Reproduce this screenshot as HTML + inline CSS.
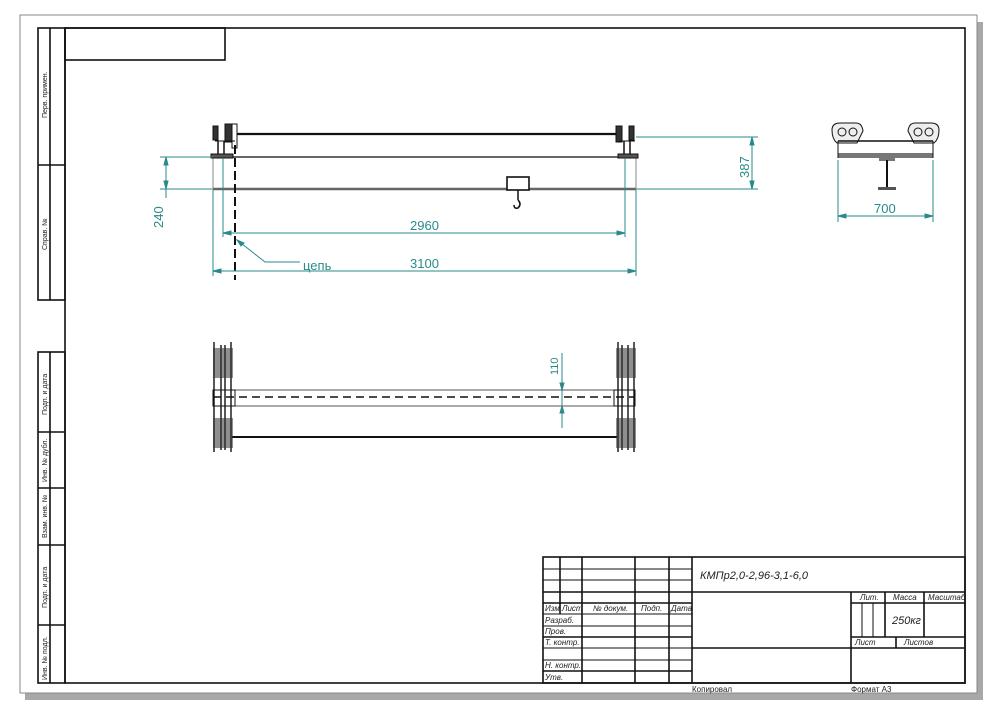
<!DOCTYPE html>
<html><head><meta charset="utf-8"><style>
html,body{margin:0;padding:0;background:#fff;width:1000px;height:715px;overflow:hidden}
svg{display:block}
text{font-family:"Liberation Sans","DejaVu Sans",sans-serif}
</style></head><body>
<svg width="1000" height="715" viewBox="0 0 1000 715" xmlns="http://www.w3.org/2000/svg">
<rect width="1000" height="715" fill="#fff"/>
<!-- shadow -->
<rect x="977" y="22" width="6" height="678" fill="#a8a8a8"/>
<rect x="25" y="693" width="958" height="7" fill="#a8a8a8"/>
<rect x="20" y="15" width="957" height="678" fill="#fff" stroke="#888" stroke-width="1"/>
<!-- frame -->
<g stroke="#111" fill="none" stroke-width="1.6">
<rect x="65" y="28" width="900" height="655"/>
<rect x="65" y="28" width="160" height="32"/>
<!-- left top strip -->
<rect x="38" y="28" width="27" height="272"/>
<line x1="50" y1="28" x2="50" y2="300"/><line x1="38" y1="165" x2="65" y2="165"/>
<!-- left bottom strip -->
<rect x="38" y="352" width="27" height="331"/>
<line x1="50" y1="352" x2="50" y2="683"/>
<line x1="38" y1="432" x2="65" y2="432"/><line x1="38" y1="488" x2="65" y2="488"/>
<line x1="38" y1="545" x2="65" y2="545"/><line x1="38" y1="625" x2="65" y2="625"/>
<!-- title block -->
<rect x="543" y="557" width="422" height="126"/>
<line x1="692" y1="557" x2="692" y2="683"/>
<line x1="560" y1="557" x2="560" y2="614"/>
<line x1="582" y1="557" x2="582" y2="683"/>
<line x1="635" y1="557" x2="635" y2="683"/>
<line x1="669" y1="557" x2="669" y2="683"/>
<line x1="692" y1="592" x2="965" y2="592"/>
<line x1="692" y1="648" x2="965" y2="648"/>
<line x1="851" y1="592" x2="851" y2="683"/>
<line x1="851" y1="603" x2="965" y2="603"/>
<line x1="851" y1="637" x2="965" y2="637"/>
<line x1="885" y1="592" x2="885" y2="637"/>
<line x1="924" y1="592" x2="924" y2="637"/>
<line x1="896" y1="637" x2="896" y2="648"/>
</g>
<g stroke="#111" stroke-width="1">
<line x1="862" y1="603" x2="862" y2="637"/><line x1="873" y1="603" x2="873" y2="637"/>
<line x1="543" y1="569" x2="692" y2="569"/><line x1="543" y1="580" x2="692" y2="580"/>
<line x1="543" y1="614" x2="692" y2="614"/><line x1="543" y1="626" x2="692" y2="626"/>
<line x1="543" y1="648" x2="692" y2="648"/><line x1="543" y1="660" x2="692" y2="660"/>
</g>
<g stroke="#111" stroke-width="1.6">
<line x1="543" y1="592" x2="692" y2="592"/><line x1="543" y1="603" x2="692" y2="603"/>
<line x1="543" y1="637" x2="692" y2="637"/><line x1="543" y1="671" x2="692" y2="671"/>
</g>
<g font-size="8" fill="#222" font-style="italic">
<text x="545" y="611">Изм</text><text x="562" y="611">Лист</text><text x="593" y="611">№ докум.</text><text x="641" y="611">Подп.</text><text x="671" y="611">Дата</text>
<text x="545" y="623">Разраб.</text><text x="545" y="634">Пров.</text><text x="545" y="645">Т. контр.</text>
<text x="545" y="668">Н. контр.</text><text x="545" y="680">Утв.</text>
<text x="860" y="600">Лит.</text><text x="893" y="600">Масса</text><text x="928" y="600">Масштаб</text>
<text x="855" y="645">Лист</text><text x="904" y="645">Листов</text>
<text x="692" y="692" font-style="normal">Копировал</text><text x="851" y="692" font-style="normal">Формат А3</text>
<text x="700" y="579" font-size="11">КМПр2,0-2,96-3,1-6,0</text>
<text x="892" y="624" font-size="11">250кг</text>
</g>
<g font-size="7" fill="#222">
<text transform="translate(47,118) rotate(-90)">Перв. примен.</text>
<text transform="translate(47,250) rotate(-90)">Справ. №</text>
<text transform="translate(47,415) rotate(-90)">Подп. и дата</text>
<text transform="translate(47,482) rotate(-90)">Инв. № дубл.</text>
<text transform="translate(47,538) rotate(-90)">Взам. инв. №</text>
<text transform="translate(47,608) rotate(-90)">Подп. и дата</text>
<text transform="translate(47,680) rotate(-90)">Инв. № подл.</text>
</g>

<!-- TOP VIEW -->
<g stroke="#111" fill="none">
<line x1="236" y1="134" x2="618" y2="134" stroke-width="2.2"/>
<line x1="213" y1="157" x2="636" y2="157" stroke="#666" stroke-width="2"/>
<line x1="213" y1="189" x2="636" y2="189" stroke="#666" stroke-width="2.6"/>
<line x1="213" y1="157" x2="213" y2="189" stroke="#888"/>
<line x1="636" y1="157" x2="636" y2="189" stroke="#888"/>
<!-- left truck -->
<rect x="213" y="126" width="5" height="14" fill="#333"/>
<rect x="225" y="124" width="7" height="18" fill="#333"/>
<rect x="232" y="124" width="5" height="24" fill="#fff"/>
<line x1="215" y1="141" x2="235" y2="141"/>
<line x1="218" y1="141" x2="218" y2="155" stroke-width="1.5"/><line x1="224" y1="141" x2="224" y2="155" stroke-width="1.5"/>
<rect x="211" y="154" width="22" height="4" fill="#555"/>
<!-- right truck -->
<rect x="616" y="126" width="6" height="16" fill="#333"/>
<rect x="629" y="126" width="5" height="14" fill="#333"/>
<line x1="619" y1="141" x2="635" y2="141"/>
<line x1="624" y1="141" x2="624" y2="155" stroke-width="1.5"/><line x1="630" y1="141" x2="630" y2="155" stroke-width="1.5"/>
<rect x="618" y="154" width="20" height="4" fill="#555"/>
<!-- hoist -->
<rect x="507" y="177" width="22" height="13" fill="#fff" stroke-width="1.6"/>
<line x1="518" y1="190" x2="518" y2="200" stroke-width="1.5"/>
<path d="M518 200 Q522 204 518 208 Q514 209 514 205" stroke-width="1.5"/>
<!-- chain -->
<line x1="235" y1="145" x2="235" y2="280" stroke-width="2" stroke-dasharray="9,4"/>
</g>
<g stroke="#2a8a8a" fill="#2a8a8a" stroke-width="1">
<line x1="160" y1="157" x2="213" y2="157"/><line x1="160" y1="189" x2="213" y2="189"/>
<line x1="166" y1="157" x2="166" y2="198"/>
<path d="M166 157 l-2 8 h4z M166 189 l-2 -8 h4z"/>
<line x1="636" y1="137" x2="758" y2="137"/><line x1="636" y1="189" x2="758" y2="189"/>
<line x1="752" y1="137" x2="752" y2="189"/>
<path d="M752 137 l-2 8 h4z M752 189 l-2 -8 h4z"/>
<line x1="223" y1="158" x2="223" y2="237"/><line x1="625" y1="158" x2="625" y2="237"/>
<line x1="223" y1="233" x2="625" y2="233"/>
<path d="M223 233 l8 -2 v4z M625 233 l-8 -2 v4z"/>
<line x1="213" y1="190" x2="213" y2="276"/><line x1="636" y1="190" x2="636" y2="276"/>
<line x1="213" y1="271" x2="636" y2="271"/>
<path d="M213 271 l8 -2 v4z M636 271 l-8 -2 v4z"/>
<polyline points="237,240 265,262 300,262" fill="none"/>
<path d="M237 240 l7 3 l-3 3z"/>
<line x1="838" y1="160" x2="838" y2="222"/><line x1="933" y1="160" x2="933" y2="222"/>
<line x1="838" y1="216" x2="933" y2="216"/>
<path d="M838 216 l8 -2 v4z M933 216 l-8 -2 v4z"/>
<line x1="562" y1="353" x2="562" y2="428"/>
<path d="M562 390 l-2 -7 h4z M562 406 l-2 7 h4z"/>
</g>
<g fill="#2a8a8a" font-size="13">
<text x="410" y="230">2960</text>
<text x="410" y="268">3100</text>
<text x="303" y="270">цепь</text>
<text x="874" y="213">700</text>
<text transform="translate(163,228) rotate(-90)">240</text>
<text transform="translate(749,178) rotate(-90)">387</text>
<text transform="translate(558,375) rotate(-90)" font-size="11">110</text>
</g>

<!-- END VIEW -->
<g stroke="#111" fill="none">
<path d="M832 130 q0 -7 8 -7 h16 q6 0 7 8 l-6 12 h-20 q-5 -4 -5 -13z" fill="#eee"/>
<path d="M939 130 q0 -7 -8 -7 h-16 q-6 0 -7 8 l6 12 h20 q5 -4 5 -13z" fill="#eee"/>
<circle cx="842" cy="132" r="4"/><circle cx="853" cy="132" r="4"/>
<circle cx="918" cy="132" r="4"/><circle cx="929" cy="132" r="4"/>
<line x1="838" y1="141" x2="933" y2="141" stroke-width="1.5"/>
<rect x="838" y="153" width="95" height="5" fill="#777" stroke="none"/>
<line x1="838" y1="141" x2="838" y2="158"/><line x1="933" y1="141" x2="933" y2="158"/>
<rect x="879" y="158" width="16" height="3" fill="#777" stroke="none"/>
<line x1="887" y1="160" x2="887" y2="188" stroke-width="2"/>
<rect x="878" y="187" width="18" height="3" fill="#555" stroke="none"/>
</g>

<!-- BOTTOM VIEW -->
<g stroke="#111" fill="none">
<line x1="230" y1="390" x2="617" y2="390" stroke="#555"/>
<line x1="230" y1="406" x2="617" y2="406" stroke="#555"/>
<line x1="213" y1="397" x2="635" y2="397" stroke-width="1.6" stroke-dasharray="8,5"/>
<line x1="232" y1="437" x2="617" y2="437" stroke-width="2"/>
<rect x="213" y="390" width="22" height="16"/>
<rect x="614" y="390" width="21" height="16"/>
<g stroke-width="1.4">
<path d="M214 342 v110 M231 342 v110 M221 345 v105 M225 345 v105"/>
<path d="M618 342 v110 M634 342 v110 M622 345 v105 M628 345 v105"/>
</g>
<g fill="#333" stroke="none">
<rect x="213" y="348" width="20" height="30" opacity=".55"/><rect x="213" y="418" width="20" height="30" opacity=".55"/>
<rect x="616" y="348" width="20" height="30" opacity=".55"/><rect x="616" y="418" width="20" height="30" opacity=".55"/>
</g>
</g>
</svg>
</body></html>
